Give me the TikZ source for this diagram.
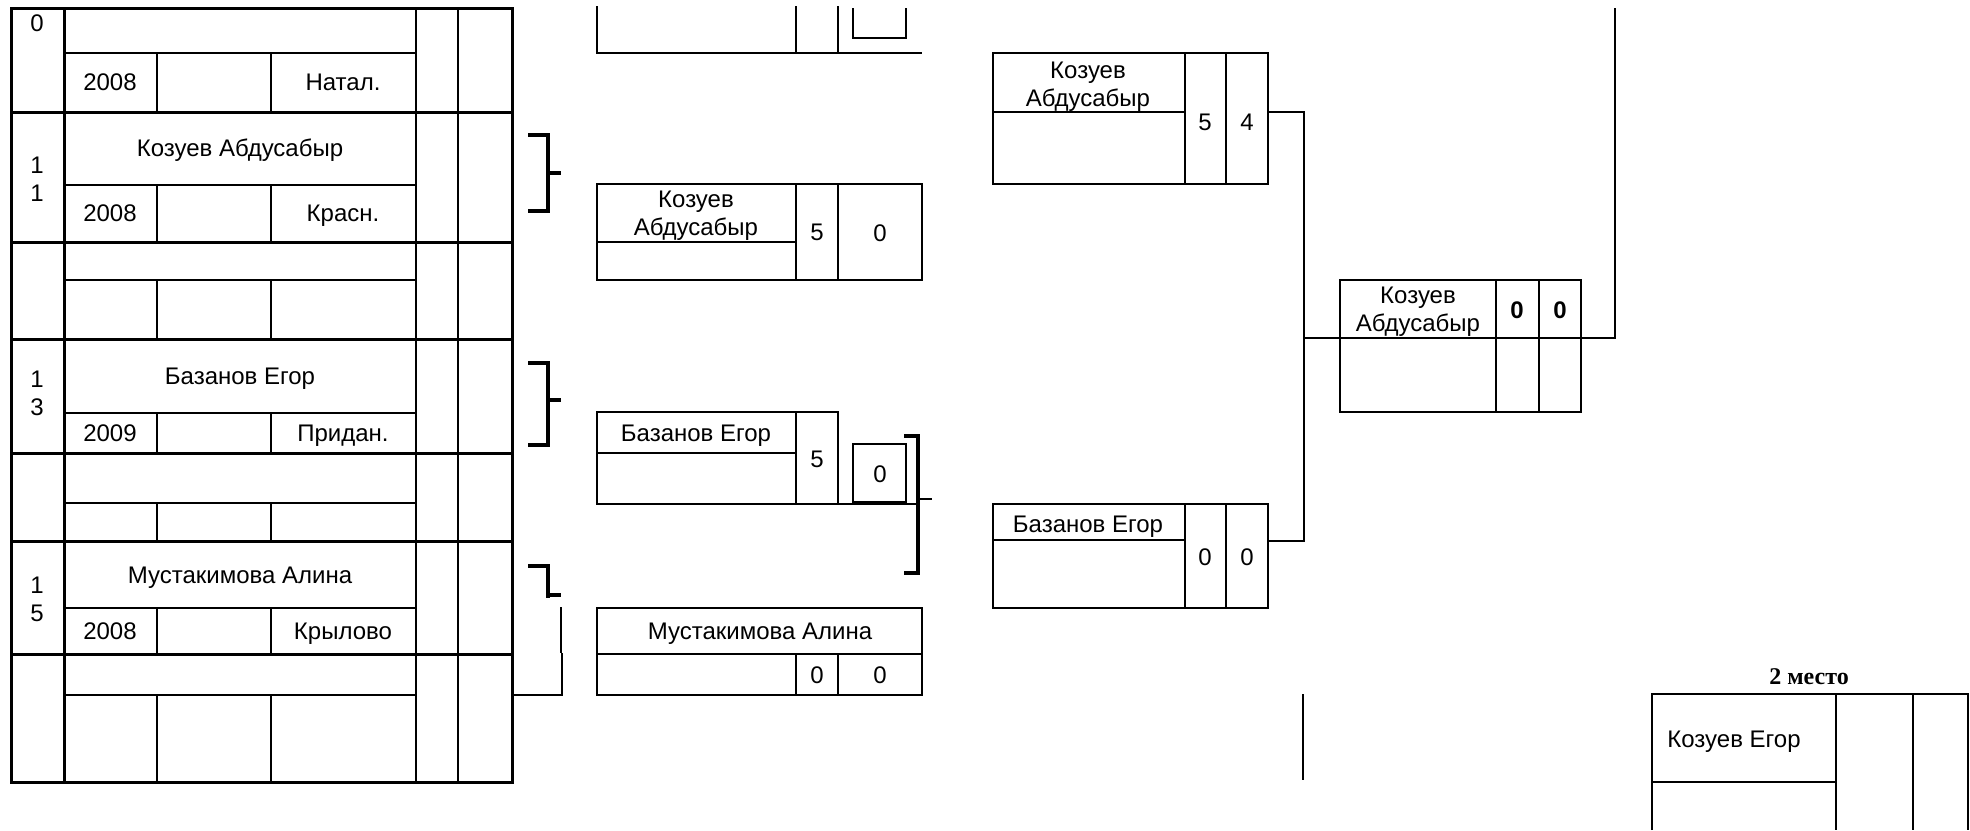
\documentclass[tikz,border=0pt]{standalone}
\usepackage{fontspec}
\setmainfont{Liberation Sans}
\newfontfamily\placefont{Liberation Serif}
\usetikzlibrary{positioning}
\tikzset{
  gline/.style={line width=0.9pt},
  bline/.style={line width=1.5pt},
  brk/.style={line width=2pt},
  lbl/.style={inner sep=0pt, font=\fontsize{12}{14}\selectfont,
              text height=8.6pt, text depth=0pt},
  lbl2/.style={inner sep=0pt, font=\fontsize{12}{14}\selectfont, align=center},
}

\begin{document}
\begin{tikzpicture}[x=0.5pt, y=-0.5pt]
    \useasboundingbox (0,0) rectangle (1970,830);

    % left table
    \foreach \m/\b in {53/112, 185/242, 280/339, 413/453, 503/541, 608/654, 695/782}
      \draw[gline] (64,\m) -- (416,\m) (157,\m) -- (157,\b) (271,\m) -- (271,\b);
    \foreach \b in {112, 242, 339, 453, 541, 654}
      \draw[bline] (11,\b) -- (512,\b);
    \draw[bline] (11,8) rectangle (512,782);
    \draw[bline] (64,8) -- (64,782);
    \draw[gline] (416,8) -- (416,782) (458,8) -- (458,782);

    \node[lbl] (seed0) at (37,23) {0};
    \node[lbl2] (seed11) at (37,179) {1\\1};
    \node[lbl2] (seed13) at (37,393) {1\\3};
    \node[lbl2] (seed15) at (37,599) {1\\5};
    \node[lbl] (name11) at (240,148) {Козуев Абдусабыр};
    \node[lbl] (name13) at (240,376) {Базанов Егор};
    \node[lbl] (name15) at (240,575) {Мустакимова Алина};
    \node[lbl] (year0) at (110,82) {2008};
    \node[lbl] (year11) at (110,213) {2008};
    \node[lbl] (year13) at (110,433) {2009};
    \node[lbl] (year15) at (110,631) {2008};
    \node[lbl] (town0) at (343,82) {Натал.};
    \node[lbl] (town11) at (343,213) {Красн.};
    \node[lbl] (town13) at (343,433) {Придан.};
    \node[lbl] (town15) at (343,631) {Крылово};

    % brackets
    \draw[brk] (528,135) -- (548,135) -- (548,211) -- (528,211) (548,173) -- (561,173);
    \draw[brk] (528,363) -- (548,363) -- (548,445) -- (528,445) (548,400) -- (561,400);
    \draw[brk] (528,566) -- (548,566) -- (548,598) (548,595) -- (561,595);
    \draw[gline] (561,607) -- (561,653);
    \draw[gline] (562,653) -- (562,695) -- (513,695);

    % second round
    \draw[gline] (597,6) -- (597,53) -- (922,53) (796,6) -- (796,53) (838,6) -- (838,53);
    \draw[gline] (853,8) -- (853,38) -- (906,38) -- (906,8);

    \draw[gline] (597,184) rectangle (922,280);
    \draw[gline] (597,242) -- (796,242) (796,184) -- (796,280) (838,184) -- (838,280);
    \node[lbl2] (name2a) at (696,216) {Козуев\\Абдусабыр};
    \node[lbl] (sc2a) at (817,232) {5};
    \node[lbl] (pt2a) at (880,233) {0};

    \draw[gline] (597,412) rectangle (838,504);
    \draw[gline] (597,453) -- (796,453) (796,412) -- (796,504) (838,504) -- (918,504);
    \draw[gline] (853,444) rectangle (906,502);
    \node[lbl] (name2b) at (696,433) {Базанов Егор};
    \node[lbl] (sc2b) at (817,459) {5};
    \node[lbl] (pt2b) at (880,474) {0};
    \draw[brk] (904,436) -- (918,436) -- (918,573) -- (904,573);
    \draw[gline] (918,499) -- (932,499);

    \draw[gline] (597,608) rectangle (922,695);
    \draw[gline] (597,654) -- (922,654) (796,654) -- (796,695) (838,654) -- (838,695);
    \node[lbl] (name2c) at (760,631) {Мустакимова Алина};
    \node[lbl] (sc2c) at (817,675) {0};
    \node[lbl] (pt2c) at (880,675) {0};

    % third round
    \draw[gline] (993,53) rectangle (1268,184);
    \draw[gline] (993,112) -- (1185,112) (1185,53) -- (1185,184) (1226,53) -- (1226,184);
    \node[lbl2] (name3a) at (1088,87) {Козуев\\Абдусабыр};
    \node[lbl] (sc3a) at (1205,122) {5};
    \node[lbl] (pt3a) at (1247,122) {4};

    \draw[gline] (993,504) rectangle (1268,608);
    \draw[gline] (993,540) -- (1185,540) (1185,504) -- (1185,608) (1226,504) -- (1226,608);
    \node[lbl] (name3b) at (1088,524) {Базанов Егор};
    \node[lbl] (sc3b) at (1205,557) {0};
    \node[lbl] (pt3b) at (1247,557) {0};

    % final
    \draw[gline] (1340,280) rectangle (1581,412);
    \draw[gline] (1340,338) -- (1581,338) (1496,280) -- (1496,412) (1539,280) -- (1539,412);
    \node[lbl2] (name4) at (1418,312) {Козуев\\Абдусабыр};
    \node[lbl] (sc4) at (1517,310) {\bfseries 0};
    \node[lbl] (pt4) at (1560,310) {\bfseries 0};

    \coordinate (k3out) at (1268,112);
    \coordinate (b3out) at (1268,541);
    \coordinate (k4in) at (1340,338);
    \coordinate (k4out) at (1581,338);
    \coordinate (join) at (1304,338);
    \draw[gline] (k3out) -| (1304,541) -- (b3out);
    \draw[gline] (join) -- (k4in);
    \draw[gline] (k4out) -- (1615,338) -- (1615,8);
    \draw[gline] (1303,694) -- (1303,780);

    % second place
    \node[lbl, font=\placefont\bfseries\fontsize{12}{14}\selectfont] (place) at (1809,676) {2 место};
    \draw[gline] (1652,830) -- (1652,694) -- (1968,694) -- (1968,830);
    \draw[gline] (1836,694) -- (1836,830) (1913,694) -- (1913,830) (1652,782) -- (1836,782);
    \node[lbl, anchor=west] (name5) at (1667,739) {Козуев Егор};
\end{tikzpicture}
\end{document}
